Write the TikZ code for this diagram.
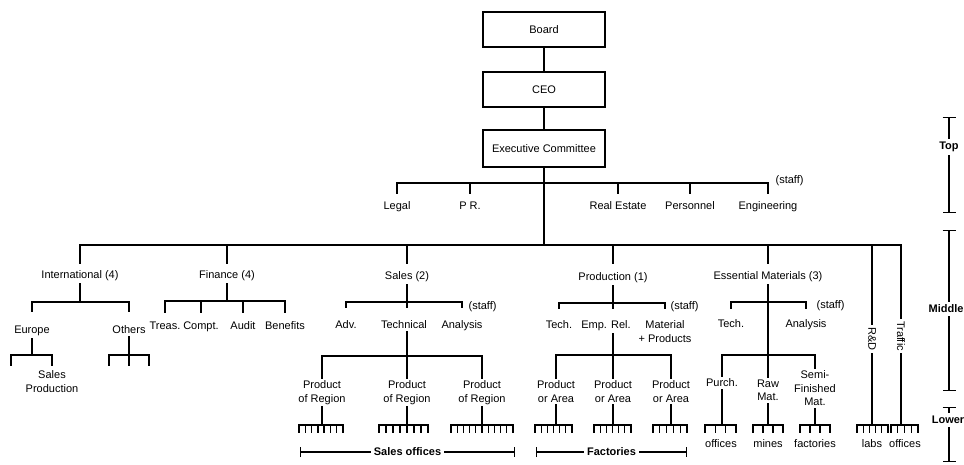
\documentclass[tikz,border=0pt]{standalone}
\usepackage{fontspec}
\setmainfont{Liberation Sans}
\usetikzlibrary{arrows.meta,calc}

\tikzset{
  box/.style={draw, line width=1.5pt, minimum width=122pt, minimum height=35pt,
    font=\fontsize{11}{13}\selectfont},
  lbl/.style={font=\fontsize{11}{13.5}\selectfont, align=center, inner sep=2pt,
    anchor=north, yshift=6pt},
  vlbl/.style={font=\fontsize{11}{13}\selectfont, rotate=-90, inner sep=2pt},
  staff/.style={font=\fontsize{11}{13}\selectfont, anchor=west, inner sep=0pt},
  level/.style={font=\fontsize{11}{13}\selectfont\bfseries, fill=white, inner sep=3pt},
  span/.style={{Bar[width=10pt]}-{Bar[width=10pt]}},
  scale bar/.style={{Bar[width=13pt]}-{Bar[width=13pt]}}
}

% a row of offices, from x=#1 to x=#2, with #3 teeth
\newcommand{\rake}[3]{%
  \draw (#1,425) -- (#2,425);
  \foreach \k in {1,...,#3}
    \draw ({#1+(\k-1)*(#2-#1)/(#3-1)},425) -- ++(0,7);
}

\begin{document}
\begin{tikzpicture}[x=1pt, y=-1pt, line width=1.3pt, line cap=rect]
  \useasboundingbox [fill=white] (0,0) rectangle (964,464);

  % top
  \node [box] (board) at (544,29.5) {Board};
  \node [box] (ceo) at (544,89.5) {CEO};
  \node [box, minimum height=37pt] (exec) at (544,148.5) {Executive Committee};
  \draw (board) -- (ceo);
  \draw (ceo) -- (exec);

  % staff of the committee
  \coordinate (sbus) at (0,183);
  \node [lbl] (legal) at (397,205) {Legal};
  \node [lbl] (pr) at (470,205) {P R.};
  \node [lbl] (estate) at (618,205) {Real Estate};
  \node [lbl] (personnel) at (690,205) {Personnel};
  \node [lbl] (engineering) at (768,205) {Engineering};
  \node [staff] at (775,181) {(staff)};
  \draw (legal |- sbus) -- (engineering |- sbus);
  \foreach \n in {legal, pr, estate, personnel, engineering}
    \draw (\n |- sbus) -- ++(0,10);

  % middle
  \coordinate (mbus) at (0,245);
  \coordinate (rakes) at (0,425);
  \node [lbl] (intl) at (80,274) {International (4)};
  \node [lbl] (finance) at (227,274) {Finance (4)};
  \node [lbl] (sales) at (407,275) {Sales (2)};
  \node [lbl] (production) at (613,276) {Production (1)};
  \node [lbl] (essential) at (768,275) {Essential Materials (3)};
  \node [vlbl] (rd) at (872,339) {R\&D};
  \node [vlbl] (traffic) at (901,336) {Traffic};
  \draw (exec) -- (exec |- mbus);
  \draw (intl |- mbus) -- (traffic |- mbus) -- (traffic.west);
  \draw (rd |- mbus) -- (rd.west);
  \foreach \n in {intl, finance, sales, production, essential}
    \draw (\n |- mbus) -- ++(0,18);

  % international
  \coordinate (ibus) at (0,302);
  \coordinate (ebus) at (0,355);
  \node [lbl] (europe) at (32,329) {Europe};
  \node [lbl] (others) at (129,329) {Others};
  \draw (intl.south) -- (intl |- ibus);
  \draw (europe |- ibus) -- (others |- ibus);
  \foreach \n in {europe, others}
    \draw (\n |- ibus) -- ++(0,9);
  \draw (europe.south) -- (europe |- ebus);
  \draw ($(europe |- ebus)+(-21,10)$) -- ++(0,-10) -- ++(41,0) -- ++(0,10);
  \node [lbl] (salesprod) at ($(europe |- ebus)+(20,19)$) {Sales\\Production};
  \draw (others.south) -- (others |- ebus) -- ++(0,10);
  \draw ($(others |- ebus)+(-20,10)$) -- ++(0,-10) -- ++(40,0) -- ++(0,10);

  % finance
  \coordinate (fbus) at (0,301);
  \node [lbl] (treas) at (165,325) {Treas.};
  \node [lbl] (compt) at (201,325) {Compt.};
  \node [lbl] (audit) at (243,325) {Audit};
  \node [lbl] (benefits) at (285,325) {Benefits};
  \draw (finance.south) -- (finance |- fbus);
  \draw (treas |- fbus) -- (benefits |- fbus);
  \foreach \n in {treas, compt, audit, benefits}
    \draw (\n |- fbus) -- ++(0,11);

  % sales
  \coordinate (salesbus) at (0,302);
  \coordinate (techbus) at (0,356);
  \node [lbl] (adv) at (346,324) {Adv.};
  \node [lbl] (technical) at (404,324) {Technical};
  \node [lbl] (analysis) at (462,324) {Analysis};
  \node [staff] at (468,307) {(staff)};
  \draw (sales.south) -- (sales |- salesbus);
  \draw (adv |- salesbus) -- (analysis |- salesbus);
  \foreach \n in {adv, sales, analysis}
    \draw (\n |- salesbus) -- ++(0,5);
  \node [lbl] (region1) at (322,384) {Product\\of Region};
  \node [lbl] (region2) at (407,384) {Product\\of Region};
  \node [lbl] (region3) at (482,384) {Product\\of Region};
  \draw (technical.south -| sales) -- (sales |- techbus);
  \draw (region1 |- techbus) -- (region3 |- techbus);
  \foreach \n in {region1, region2, region3} {
    \draw (\n |- techbus) -- (\n.north);
    \draw (\n.south) -- (\n |- rakes);
  }
  \rake{299}{343}{8}
  \rake{379}{428}{8}
  \rake{451}{513}{11}
  \draw [span] (300,452) -- (515,452)
    node [midway, level] {Sales offices};

  % production
  \coordinate (prodbus) at (0,303);
  \coordinate (empbus) at (0,355);
  \node [lbl] (ptech) at (559,324) {Tech.};
  \node [lbl] (emprel) at (606,324) {Emp. Rel.};
  \node [lbl] (material) at (665,324) {Material\\+ Products};
  \node [staff] at (670,307) {(staff)};
  \draw (production.south) -- (production |- prodbus);
  \draw (ptech |- prodbus) -- (material |- prodbus);
  \foreach \n in {ptech, production, material}
    \draw (\n |- prodbus) -- ++(0,5);
  \node [lbl] (area1) at (556,384) {Product\\or Area};
  \node [lbl] (area2) at (613,384) {Product\\or Area};
  \node [lbl] (area3) at (671,384) {Product\\or Area};
  \draw (emprel.south -| production) -- (production |- empbus);
  \draw (area1 |- empbus) -- (area3 |- empbus);
  \foreach \n in {area1, area2, area3} {
    \draw (\n |- empbus) -- (\n.north);
    \draw (\n.south) -- (\n |- rakes);
  }
  \rake{535}{572}{7}
  \rake{594}{631}{7}
  \rake{653}{687}{6}
  \draw [span] (536,452) -- (687,452)
    node [midway, level] {Factories};

  % essential materials
  \coordinate (matbus) at (0,302);
  \coordinate (purbus) at (0,355);
  \node [lbl] (etech) at (731,323) {Tech.};
  \node [lbl] (eanalysis) at (806,323) {Analysis};
  \node [staff] at (816,306) {(staff)};
  \draw (essential.south) -- (essential |- purbus);
  \draw (etech |- matbus) -- (eanalysis |- matbus);
  \foreach \n in {etech, eanalysis}
    \draw (\n |- matbus) -- ++(0,6);
  \node [lbl] (purch) at (722,382) {Purch.};
  \node [lbl] (rawmat) at (768,383) {Raw\\Mat.};
  \node [lbl] (semi) at (815,374) {Semi-\\Finished\\Mat.};
  \draw (purch |- purbus) -- (semi |- purbus);
  \foreach \n in {purch, rawmat, semi} {
    \draw (\n |- purbus) -- (\n.north);
    \draw (\n.south) -- (\n |- rakes);
  }
  \rake{705}{736}{4}
  \rake{753}{783}{4}
  \rake{800}{830}{4}
  \node [lbl] (offices1) at (721,443) {offices};
  \node [lbl] (mines) at (768,443) {mines};
  \node [lbl] (factories) at (815,443) {factories};

  % r&d and traffic
  \draw (rd.east) -- (rd |- rakes);
  \draw (traffic.east) -- (traffic |- rakes);
  \rake{857}{888}{6}
  \rake{891}{918}{5}
  \node [lbl] (labs) at (872,443) {labs};
  \node [lbl] (offices2) at (905,443) {offices};

  % levels
  \draw [scale bar] (949,117) -- (949,213) node [pos=.31, level] {Top};
  \draw [scale bar] (949,230) -- (949,391) node [pos=.49, level, xshift=-3pt] {Middle};
  \draw [scale bar] (949,407) -- (949,462) node [pos=.24, level, xshift=-1pt] {Lower};
\end{tikzpicture}
\end{document}
